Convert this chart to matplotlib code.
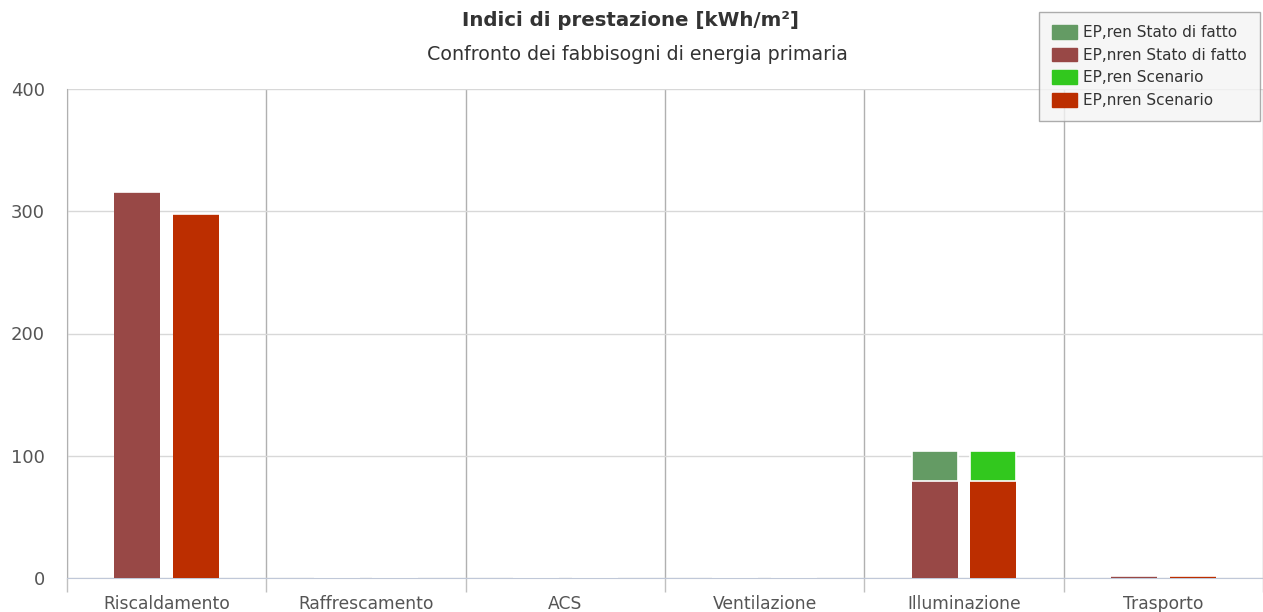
import matplotlib
matplotlib.use("Agg")
import matplotlib.pyplot as plt
import numpy as np
from matplotlib.patches import Patch

categories = ["Riscaldamento", "Raffrescamento", "ACS", "Ventilazione", "Illuminazione", "Trasporto"]
nren_stato = [315.7, 0, 0, 0, 79.5, 1.5]
ren_stato = [0, 0, 0, 0, 24.5, 0]
nren_scen = [297.8, 0, 0, 0, 79.5, 1.5]
ren_scen = [0, 0, 0, 0, 24.5, 0]
yticks = [0, 100, 200, 300, 400]

c_ren_stato = "#649b64"
c_nren_stato = "#984846"
c_ren_scen = "#32c81e"
c_nren_scen = "#bc2e00"

fig = plt.figure(figsize=(12.63, 6.12), dpi=100)
ax = fig.add_axes([67/1263, 1-578/612, 1196/1263, 489/612])

x = np.arange(len(categories))
w = 0.23
off = 0.147
ax.bar(x - off, nren_stato, w, color=c_nren_stato, linewidth=0, zorder=3)
ax.bar(x - off, ren_stato, w, bottom=nren_stato, color=c_ren_stato, edgecolor="white", linewidth=1.2, zorder=3)
ax.bar(x + off, nren_scen, w, color=c_nren_scen, linewidth=0, zorder=3)
ax.bar(x + off, ren_scen, w, bottom=nren_scen, color=c_ren_scen, edgecolor="white", linewidth=1.2, zorder=3)

ax.set_xlim(-0.5, len(categories) - 0.5)
ax.set_ylim(0, 400)
ax.set_yticks(yticks)
ax.set_yticklabels([str(v) for v in yticks], fontsize=13, color="#555555")
ax.tick_params(axis="y", length=0, pad=16)
ax.set_xticks(x)
ax.set_xticklabels(categories, fontsize=12.3, color="#555555")
ax.tick_params(axis="x", length=0, pad=12)
ax.set_xticks(np.arange(len(categories) + 1) - 0.5, minor=True)
ax.tick_params(axis="x", which="minor", length=10, color="#c0c0c0", width=1)
ax.grid(axis="y", color="#d8d8d8", linewidth=1, zorder=0)
ax.grid(axis="x", which="minor", color="#b0b0b0", linewidth=1, zorder=0)
for s in ["top", "right"]:
    ax.spines[s].set_visible(False)
ax.spines["left"].set_color("#b0b0b0")
ax.spines["bottom"].set_color("#c0c8d8")

fig.text(630/1263, 1-20/612, "Indici di prestazione [kWh/m²]", ha="center", va="center",
         fontsize=14.2, fontweight="bold", color="#333333")
fig.text(637/1263, 1-55/612, "Confronto dei fabbisogni di energia primaria", ha="center", va="center",
         fontsize=13.7, color="#333333")

handles = [Patch(color=c_ren_stato), Patch(color=c_nren_stato), Patch(color=c_ren_scen), Patch(color=c_nren_scen)]
labels = ["EP,ren Stato di fatto", "EP,nren Stato di fatto", "EP,ren Scenario", "EP,nren Scenario"]
leg = fig.legend(handles, labels, loc="upper right", bbox_to_anchor=(1260/1263, 1 - 12/612), fontsize=11,
                 frameon=True, fancybox=False, edgecolor="#999999", facecolor="#f4f4f4",
                 handlelength=1.64, handleheight=1.0, labelspacing=0.5, borderpad=0.85, handletextpad=0.4,
                 borderaxespad=0)
leg.get_frame().set_linewidth(1)
for t in leg.get_texts():
    t.set_color("#333333")

fig.savefig("out.png", dpi=100, facecolor="white")
